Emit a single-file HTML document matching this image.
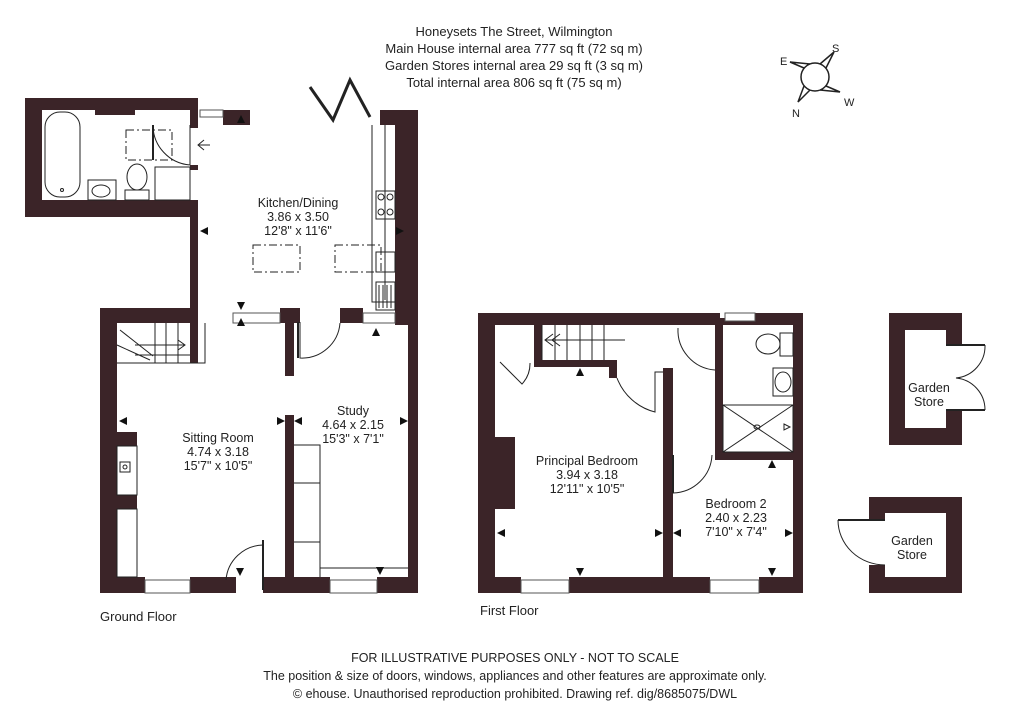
<!DOCTYPE html>
<html><head><meta charset="utf-8"><style>
html,body{margin:0;padding:0;background:#fff;}
svg{display:block;}
text{font-family:"Liberation Sans",sans-serif;fill:#222;}
</style></head><body>
<svg width="1024" height="724" viewBox="0 0 1024 724" xmlns="http://www.w3.org/2000/svg">
<g font-size="13" text-anchor="middle">
<text x="514" y="36">Honeysets The Street, Wilmington</text>
<text x="514" y="53">Main House internal area 777 sq ft (72 sq m)</text>
<text x="514" y="70">Garden Stores internal area 29 sq ft (3 sq m)</text>
<text x="514" y="87">Total internal area 806 sq ft (75 sq m)</text>
</g>
<g stroke="#222" stroke-width="1.5" fill="none">
<circle cx="815" cy="77" r="14"/>
<path d="M826 68 L834 52 L820 64"/>
<path d="M804 68 L790 62 L810 64"/>
<path d="M826 86 L840 92 L820 90"/>
<path d="M804 86 L798 102 L810 90"/>
</g>
<g font-size="11"><text x="832" y="52">S</text><text x="780" y="65">E</text><text x="844" y="106">W</text><text x="792" y="117">N</text></g>

<g fill="#3b2428">
<rect x="25" y="98" width="172" height="12"/>
<rect x="25" y="98" width="17" height="119"/>
<rect x="25" y="200" width="172" height="17"/>
<rect x="95" y="98" width="40" height="17"/>
<rect x="190" y="98" width="8" height="30"/>
<rect x="190" y="165" width="8" height="5"/>
<rect x="190" y="200" width="8" height="112"/>
<rect x="223" y="110" width="27" height="15"/>
<rect x="380" y="110" width="25" height="15"/>
<rect x="395" y="110" width="23" height="215"/>
<rect x="100" y="308" width="98" height="15"/>
<rect x="280" y="308" width="20" height="15"/>
<rect x="340" y="308" width="23" height="15"/>
<rect x="395" y="308" width="23" height="15"/>
<rect x="100" y="308" width="17" height="285"/>
<rect x="408" y="308" width="10" height="285"/>
<rect x="100" y="577" width="45" height="16"/>
<rect x="190" y="577" width="46" height="16"/>
<rect x="263" y="577" width="67" height="16"/>
<rect x="377" y="577" width="41" height="16"/>
<rect x="285" y="322" width="9" height="54"/>
<rect x="285" y="415" width="9" height="170"/>
<rect x="190" y="323" width="8" height="40"/>
<rect x="117" y="432" width="20" height="14"/>
<rect x="117" y="495" width="20" height="14"/>
<rect x="478" y="313" width="325" height="12"/>
<rect x="478" y="313" width="17" height="280"/>
<rect x="793" y="313" width="10" height="280"/>
<rect x="478" y="577" width="43" height="16"/>
<rect x="569" y="577" width="141" height="16"/>
<rect x="759" y="577" width="44" height="16"/>
<rect x="663" y="368" width="10" height="225"/>
<rect x="715" y="325" width="8" height="135"/>
<rect x="715" y="452" width="88" height="8"/>
<rect x="534" y="325" width="8" height="42"/>
<rect x="534" y="360" width="78" height="7"/>
<rect x="609" y="360" width="8" height="18"/>
<rect x="495" y="437" width="20" height="72"/>
<rect x="720" y="313" width="35" height="5" fill="#fff"/>
<rect x="889" y="313" width="73" height="132"/>
<rect x="869" y="497" width="93" height="96"/>
</g>
<g fill="#fff">
<rect x="905" y="330" width="41" height="98"/>
<rect x="944" y="345" width="20" height="65"/>
<rect x="885" y="513" width="61" height="64"/>
<rect x="866" y="520" width="22" height="45"/>
</g>
<g fill="#fff" stroke="#555" stroke-width="1">
<rect x="200" y="110" width="23" height="7"/>
<rect x="233" y="313" width="47" height="10"/>
<rect x="363" y="313" width="32" height="10"/>
<rect x="145" y="580" width="45" height="13"/>
<rect x="330" y="580" width="47" height="13"/>
<rect x="521" y="580" width="48" height="13"/>
<rect x="710" y="580" width="49" height="13"/>
<rect x="725" y="313" width="30" height="8"/>
</g>
<g fill="none" stroke="#222" stroke-width="1">
<rect x="45" y="112" width="35" height="85" rx="15"/>
<circle cx="62" cy="190" r="1.5"/>
<rect x="88" y="180" width="28" height="20"/><ellipse cx="101" cy="191" rx="9" ry="6"/>
<ellipse cx="137" cy="177" rx="10" ry="13"/><rect x="125" y="190" width="24" height="10"/>
<rect x="155" y="167" width="35" height="33"/>
<path d="M126 130 H172 V160 H126 Z" stroke-dasharray="8 3 2 3"/>
<path d="M153 125 A40 40 0 0 0 190 165 M190 125 V165 M210 145 H198 M204 140 L198 145 L204 150"/>
<path d="M385 125 V300 M372 125 V302 H395"/>
<rect x="376" y="191" width="19" height="28"/>
<circle cx="381" cy="197" r="3"/><circle cx="390" cy="197" r="3"/><circle cx="381" cy="212" r="3"/><circle cx="390" cy="212" r="3"/>
<rect x="376" y="252" width="19" height="20"/><rect x="376" y="282" width="19" height="28"/>
<path d="M379 285 V308 M383 285 V308 M387 285 V308 M391 285 V308"/>
<rect x="253" y="245" width="47" height="27" stroke-dasharray="8 3 2 3"/>
<rect x="335" y="245" width="46" height="27" stroke-dasharray="8 3 2 3"/>
<path d="M310 87 L333 120 L350 80 L370 117" stroke-width="3"/>
<path d="M117 363 H205 V323 M135 355 H190 M155 323 V363 M166 323 V363 M178 323 V363 M120 330 L153 356 M117 345 L150 360 M135 345 H185 M178 340 L185 345 L178 350"/>
<rect x="117" y="446" width="20" height="49"/><rect x="120" y="462" width="10" height="10"/><circle cx="125" cy="467" r="2"/>
<rect x="117" y="509" width="20" height="68"/>
<path d="M294 445 H320 V577 M294 483 H320 M294 542 H320 M320 568 H408"/>
<path d="M300 322 V358 A38 38 0 0 0 340 323"/>
<path d="M263 545 V590 M263 545 A38 38 0 0 0 226 580"/>
<path d="M542 325 V360 M555 325 V360 M567 325 V360 M580 325 V360 M592 325 V360 M604 325 V360 M545 340 H625 M553 334 L545 340 L553 346 M560 334 L552 340 L560 346"/>
<path d="M500 362 L522 384 A30 30 0 0 0 530 363"/>
<path d="M617 378 A55 55 0 0 0 655 412 V372 H663"/>
<path d="M673 455 V493 A40 40 0 0 0 712 455"/>
<path d="M678 328 A40 40 0 0 0 715 370"/>
<ellipse cx="768" cy="344" rx="12" ry="10"/><rect x="780" y="333" width="13" height="23"/>
<rect x="773" y="368" width="20" height="28"/><ellipse cx="783" cy="382" rx="8" ry="10"/>
<rect x="723" y="405" width="70" height="47"/><path d="M723 405 L793 452 M793 405 L723 452"/><ellipse cx="757" cy="427" rx="3" ry="2"/>
<path d="M784 424 L790 427 L784 430 Z"/>
<path d="M985 345 A32 32 0 0 1 956 378 A32 32 0 0 1 985 410"/>
<path d="M838 520 A47 45 0 0 0 885 565"/>
</g>
<path d="M153 125 V160" stroke="#222" stroke-width="2"/>
<path d="M298 322 V358 M263 540 V590 M673 455 V493 M946 345 H985 M946 410 H985 M885 520 H838" stroke="#222" stroke-width="2"/>
<g fill="#111">
<path d="M237 123 l4 -8 l4 8z"/><path d="M200 231 l8 -4 v8z"/><path d="M404 231 l-8 -4 v8z"/>
<path d="M237 302 l4 8 l4 -8z"/><path d="M237 326 l4 -8 l4 8z"/><path d="M372 336 l4 -8 l4 8z"/>
<path d="M119 421 l8 -4 v8z"/><path d="M285 421 l-8 -4 v8z"/><path d="M294 421 l8 -4 v8z"/><path d="M408 421 l-8 -4 v8z"/>
<path d="M236 568 l4 8 l4 -8z"/><path d="M376 567 l4 8 l4 -8z"/>
<path d="M576 376 l4 -8 l4 8z"/><path d="M497 533 l8 -4 v8z"/><path d="M663 533 l-8 -4 v8z"/><path d="M673 533 l8 -4 v8z"/><path d="M793 533 l-8 -4 v8z"/>
<path d="M576 568 l4 8 l4 -8z"/><path d="M768 468 l4 -8 l4 8z"/><path d="M768 568 l4 8 l4 -8z"/>
</g>
<g font-size="12.5" text-anchor="middle">
<text x="298" y="207">Kitchen/Dining</text><text x="298" y="221">3.86 x 3.50</text><text x="298" y="235">12'8" x 11'6"</text>
<text x="218" y="442">Sitting Room</text><text x="218" y="456">4.74 x 3.18</text><text x="218" y="470">15'7" x 10'5"</text>
<text x="353" y="415">Study</text><text x="353" y="429">4.64 x 2.15</text><text x="353" y="443">15'3" x 7'1"</text>
<text x="587" y="465">Principal Bedroom</text><text x="587" y="479">3.94 x 3.18</text><text x="587" y="493">12'11" x 10'5"</text>
<text x="736" y="508">Bedroom 2</text><text x="736" y="522">2.40 x 2.23</text><text x="736" y="536">7'10" x 7'4"</text>
<text x="929" y="392">Garden</text><text x="929" y="406">Store</text>
<text x="912" y="545">Garden</text><text x="912" y="559">Store</text>
</g>
<g font-size="13"><text x="100" y="621">Ground Floor</text><text x="480" y="615">First Floor</text></g>
<g font-size="12.5" text-anchor="middle">
<text x="515" y="662">FOR ILLUSTRATIVE PURPOSES ONLY - NOT TO SCALE</text>
<text x="515" y="680">The position &amp; size of doors, windows, appliances and other features are approximate only.</text>
<text x="515" y="698">© ehouse. Unauthorised reproduction prohibited. Drawing ref. dig/8685075/DWL</text>
</g>
</svg>
</body></html>
